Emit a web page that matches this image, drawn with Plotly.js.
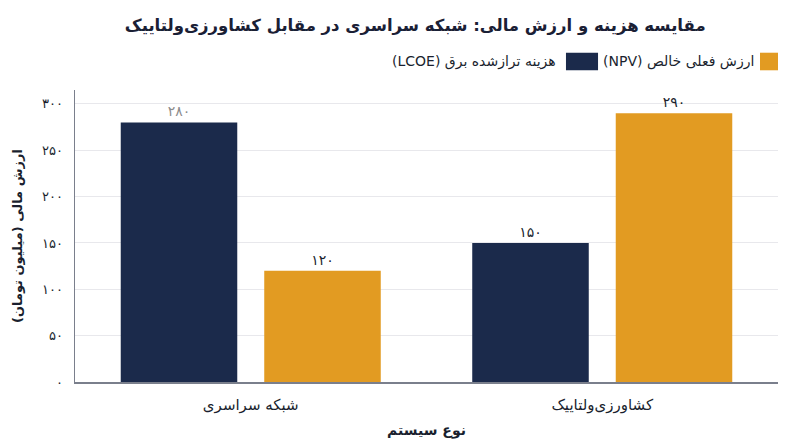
<!DOCTYPE html>
<html>
<head>
<meta charset="utf-8">
<script src="https://cdn.plot.ly/plotly-3.0.1.min.js"></script>
<style>
  html, body { margin: 0; padding: 0; background: #fff; }
  #chart { width: 800px; height: 447px; }
</style>
</head>
<body>
<div id="chart"></div>
<script>
// داده‌ها
const categories = ['شبکه سراسری', 'کشاورزی‌ولتاییک'];
const lcoeValues = [280, 150];
const npvValues = [120, 290];
const lcoeLabels = ['۲۸۰', '۱۵۰'];
const npvLabels = ['۱۲۰', '۲۹۰'];
const tickValues = [0, 50, 100, 150, 200, 250, 300];
const tickLabels = ['۰', '۵۰', '۱۰۰', '۱۵۰', '۲۰۰', '۲۵۰', '۳۰۰'];
const seriesNames = ['هزینه ترازشده برق (LCOE)', 'ارزش فعلی خالص (NPV)'];

const navy = '#1b2a4b';
const orange = '#e29b22';
const font = 'DejaVu Sans, Noto Sans, sans-serif';

// متن راست‌به‌چپ در بافت چپ‌به‌راست SVG
const rtl = s => '\u202B' + s + '\u202C';

const traceLcoe = {
  x: categories,
  y: lcoeValues,
  name: seriesNames[0],
  type: 'bar',
  marker: { color: navy },
  text: lcoeLabels,
  textposition: 'outside',
  textfont: { family: font, size: 14, color: ['#8c8c8c', '#1a1f2e'] },
  cliponaxis: false,
  showlegend: false,
  hoverinfo: 'none'
};

const traceNpv = {
  x: categories,
  y: npvValues,
  name: seriesNames[1],
  type: 'bar',
  marker: { color: orange },
  text: npvLabels,
  textposition: 'outside',
  textfont: { family: font, size: 14, color: '#1a1f2e' },
  cliponaxis: false,
  showlegend: false,
  hoverinfo: 'none'
};

// راهنما با مربع در سمت راست متن
const legendShapes = [
  { type: 'rect', xref: 'paper', yref: 'paper', x0: 0.9744, x1: 1.0, y0: 1.0675, y1: 1.1277,
    fillcolor: orange, line: { width: 0 } },
  { type: 'rect', xref: 'paper', yref: 'paper', x0: 0.6984, x1: 0.7440, y0: 1.0675, y1: 1.1277,
    fillcolor: navy, line: { width: 0 } }
];
const legendTexts = [
  { xref: 'paper', yref: 'paper', x: 0.9687, y: 1.0969, xanchor: 'right', yanchor: 'middle',
    text: rtl(seriesNames[1]), showarrow: false, font: { family: font, size: 14, color: '#1a1f2e' } },
  { xref: 'paper', yref: 'paper', x: 0.6871, y: 1.0969, xanchor: 'right', yanchor: 'middle',
    text: rtl(seriesNames[0]), showarrow: false, font: { family: font, size: 14, color: '#1a1f2e' } }
];

const layout = {
  width: 800,
  height: 447,
  title: {
    text: '<b>' + rtl('مقایسه هزینه و ارزش مالی: شبکه سراسری در مقابل کشاورزی‌ولتاییک') + '</b>',
    font: { family: font, size: 16.5, color: '#1a2035' },
    x: 0.519,
    xanchor: 'center',
    y: 0.944,
    yanchor: 'middle'
  },
  barmode: 'group',
  bargap: 0.1835,
  bargroupgap: 0.188,
  margin: { l: 75, r: 22, t: 90, b: 65 },
  paper_bgcolor: '#ffffff',
  plot_bgcolor: '#ffffff',
  xaxis: {
    title: { text: '<b>نوع سیستم</b>', font: { family: font, size: 14, color: '#1a1f2e' }, standoff: 12 },
    tickfont: { family: font, size: 15, color: '#1a1f2e' },
    showline: true,
    linecolor: '#7a7f8c',
    linewidth: 1.5,
    ticks: '',
    ticklabelstandoff: 8
  },
  yaxis: {
    title: { text: '<b>' + rtl('ارزش مالی (میلیون تومان)') + '</b>', font: { family: font, size: 13, color: '#1a1f2e' }, standoff: 16 },
    range: [0, 315],
    tickvals: tickValues,
    ticktext: tickLabels,
    tickfont: { family: font, size: 13, color: '#1a1f2e' },
    showline: true,
    linecolor: '#7a7f8c',
    linewidth: 1.5,
    gridcolor: '#e8e8ec',
    zeroline: false,
    ticks: '',
    ticklabelstandoff: 8
  },
  shapes: legendShapes,
  annotations: legendTexts
};

Plotly.newPlot('chart', [traceLcoe, traceNpv], layout, { displayModeBar: false, staticPlot: true });
</script>
</body>
</html>
